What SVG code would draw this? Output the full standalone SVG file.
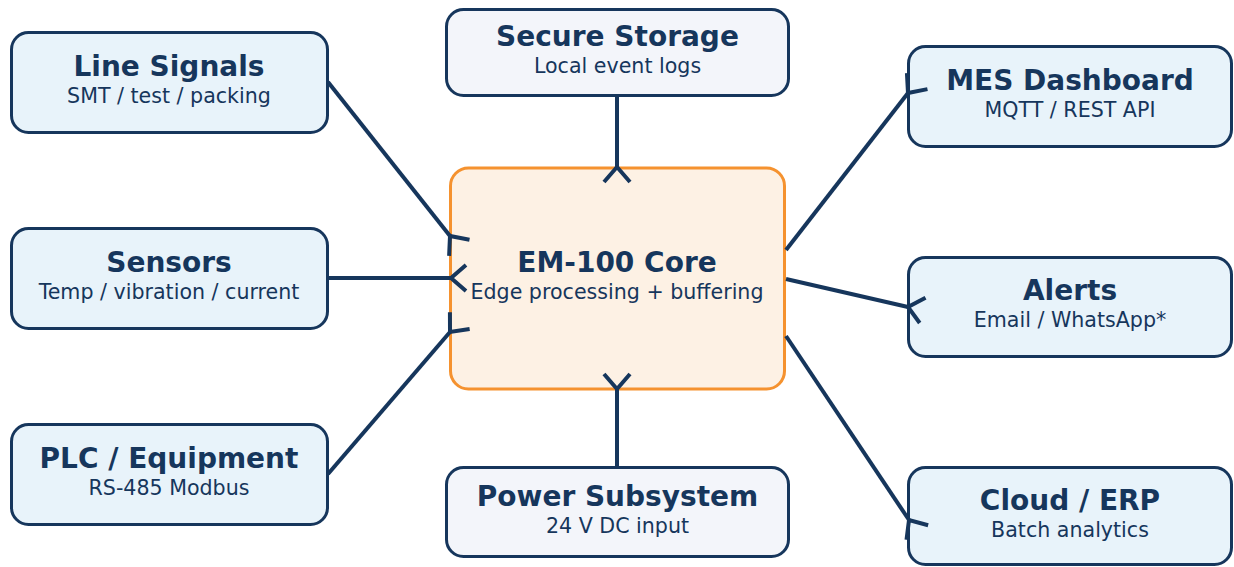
<svg xmlns="http://www.w3.org/2000/svg" width="1234" height="567" viewBox="0 0 1234 567">
  <defs>
    <style>
      .box { fill: #e8f3fa; stroke: #16365c; stroke-width: 3; }
      .box-alt { fill: #f3f5fa; stroke: #16365c; stroke-width: 3; }
      .core { fill: #fdf1e4; stroke: #f5922f; stroke-width: 3; }
      .title { font-family: "DejaVu Sans", "Liberation Sans", sans-serif; font-weight: bold; font-size: 28px; fill: #16365c; text-anchor: middle; }
      .sub { font-family: "DejaVu Sans", "Liberation Sans", sans-serif; font-size: 20.6px; fill: #16365c; text-anchor: middle; }
      .link { stroke: #16365c; stroke-width: 4; fill: none; marker-end: url(#fork); }
    </style>
    <!-- open fork at the receiving end: apex on the border, arms reaching inward -->
    <marker id="fork" markerUnits="userSpaceOnUse" orient="auto" viewBox="-3 -16 22 32" markerWidth="22" markerHeight="32" refX="0" refY="0" overflow="visible">
      <path d="M15 -13 L0 0 L15 13" fill="none" stroke="#16365c" stroke-width="4"/>
    </marker>
  </defs>

  <g id="core">
    <rect class="core" x="450.5" y="168" width="334" height="221" rx="18"/>
    <text class="title" x="617" y="272">EM-100 Core</text>
    <text class="sub" x="617" y="299">Edge processing + buffering</text>
  </g>

  <g id="line-signals">
    <rect class="box" x="11.5" y="32.5" width="316" height="100" rx="17"/>
    <text class="title" x="169" y="76">Line Signals</text>
    <text class="sub" x="169" y="103">SMT / test / packing</text>
  </g>

  <g id="sensors">
    <rect class="box" x="11.5" y="228.5" width="316" height="100" rx="17"/>
    <text class="title" x="169" y="272">Sensors</text>
    <text class="sub" x="169" y="299">Temp / vibration / current</text>
  </g>

  <g id="plc">
    <rect class="box" x="11.5" y="424.5" width="316" height="100" rx="17"/>
    <text class="title" x="169" y="468">PLC / Equipment</text>
    <text class="sub" x="169" y="495">RS-485 Modbus</text>
  </g>

  <g id="storage">
    <rect class="box-alt" x="446.5" y="9.5" width="342" height="86" rx="17"/>
    <text class="title" x="617.5" y="46">Secure Storage</text>
    <text class="sub" x="617.5" y="73">Local event logs</text>
  </g>

  <g id="power">
    <rect class="box-alt" x="446.5" y="467.5" width="342" height="89" rx="17"/>
    <text class="title" x="617.5" y="506">Power Subsystem</text>
    <text class="sub" x="617.5" y="533">24 V DC input</text>
  </g>

  <g id="mes">
    <rect class="box" x="908.5" y="46.5" width="323" height="100" rx="17"/>
    <text class="title" x="1070" y="90">MES Dashboard</text>
    <text class="sub" x="1070" y="117">MQTT / REST API</text>
  </g>

  <g id="alerts">
    <rect class="box" x="908.5" y="257.5" width="323" height="99" rx="17"/>
    <text class="title" x="1070" y="300">Alerts</text>
    <text class="sub" x="1070" y="327">Email / WhatsApp*</text>
  </g>

  <g id="cloud">
    <rect class="box" x="908.5" y="467.5" width="323" height="97" rx="17"/>
    <text class="title" x="1070" y="510">Cloud / ERP</text>
    <text class="sub" x="1070" y="537">Batch analytics</text>
  </g>

  <!-- drawn last so the forks sit on top of the node borders -->
  <g id="connectors">
    <line class="link" x1="328" y1="82" x2="450" y2="236"/>
    <line class="link" x1="328" y1="278" x2="451" y2="278"/>
    <line class="link" x1="328" y1="474" x2="450" y2="332"/>
    <line class="link" x1="617" y1="95" x2="617" y2="167"/>
    <line class="link" x1="617" y1="466" x2="617" y2="389"/>
    <line class="link" x1="786" y1="250" x2="908" y2="93"/>
    <line class="link" x1="786" y1="279" x2="908" y2="307"/>
    <line class="link" x1="786" y1="336" x2="909" y2="520"/>
  </g>
</svg>
